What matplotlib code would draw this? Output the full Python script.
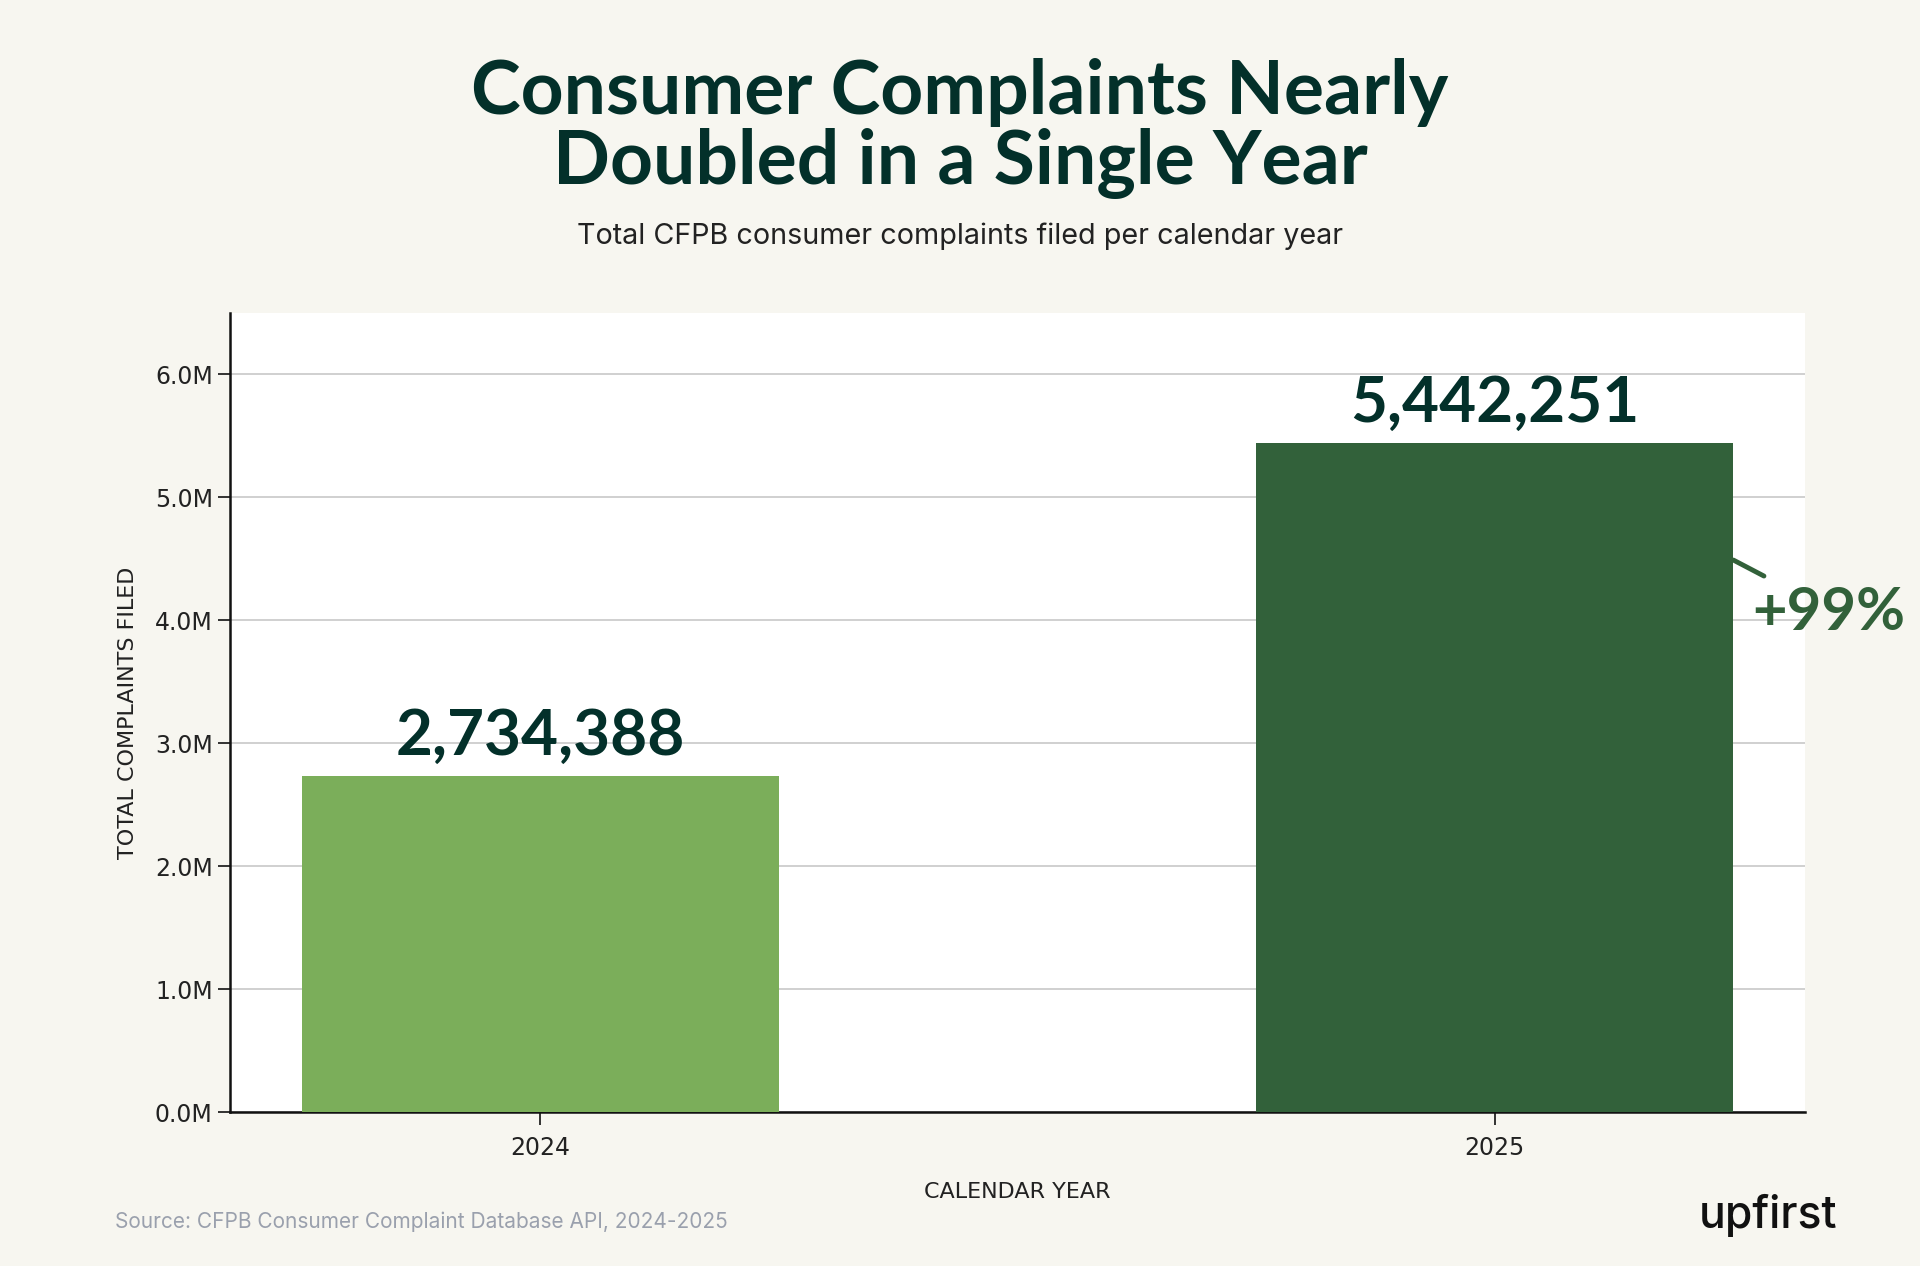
import matplotlib.pyplot as plt
from matplotlib.ticker import FuncFormatter

years = ['2024', '2025']
complaints = [2734388, 5442251]
bar_colors = ['#7bae5a', '#32613a']

BG = '#f7f6f0'
DARK = '#03302a'
INK = '#222222'

fig = plt.figure(figsize=(19.2, 12.66), dpi=100, facecolor=BG)
ax = fig.add_axes([0.1198, 0.1216, 0.8203, 0.6312])
ax.set_facecolor('white')

x = list(range(len(years)))
bars = ax.bar(x, complaints, width=0.5, color=bar_colors, zorder=3)

ax.set_xlim(-0.325, 1.325)
ax.set_ylim(0, 6.5e6)
ax.set_yticks([i * 1e6 for i in range(7)])
ax.yaxis.set_major_formatter(FuncFormatter(lambda v, p: '%.1fM' % (v / 1e6)))
ax.set_xticks(x)
ax.set_xticklabels(years)

ax.grid(axis='y', color='#c8c8c8', linewidth=1.2, zorder=0)
ax.set_axisbelow(True)
for s in ['top', 'right']:
    ax.spines[s].set_visible(False)
for s in ['left', 'bottom']:
    ax.spines[s].set_color('#111111')
    ax.spines[s].set_linewidth(1.8)

tick_font = ['Liberation Sans Narrow', 'DejaVu Sans']
ax.tick_params(axis='both', colors='#111111', labelsize=17, length=9, width=1.2)
for lab in ax.get_xticklabels() + ax.get_yticklabels():
    lab.set_family(tick_font)
    lab.set_color(INK)
ax.tick_params(axis='x', pad=8)

ax.set_xlabel('CALENDAR YEAR', fontsize=16, family=tick_font, color=INK, labelpad=16)
ax.set_ylabel('TOTAL COMPLAINTS FILED', fontsize=16, family=tick_font, color=INK, labelpad=12)

# value labels above bars
for xi, val in zip(x, complaints):
    ax.annotate(f'{val:,}', (xi, val), xytext=(0, 8), textcoords='offset points',
                ha='center', va='bottom', fontsize=46, fontweight='bold',
                family=['Lato', 'DejaVu Sans'], color=DARK)

# growth callout
pct = (complaints[1] / complaints[0] - 1) * 100
ax.plot([1.25, 1.282], [4.49e6, 4.36e6], color='#32613a', linewidth=3.5,
        solid_capstyle='round', clip_on=False, zorder=4)
ax.text(1.35, 4.06e6, f'+{pct:.0f}%', ha='center', va='center', fontsize=43,
        fontweight='bold', family=['Lato', 'DejaVu Sans'], color='#32613a', clip_on=False)

# title and subtitle
fig.text(0.5, 0.927, 'Consumer Complaints Nearly', ha='center', va='center',
         fontsize=54, fontweight='bold', family=['Lato', 'DejaVu Sans'], color=DARK)
fig.text(0.5, 0.871, 'Doubled in a Single Year', ha='center', va='center',
         fontsize=54, fontweight='bold', family=['Lato', 'DejaVu Sans'], color=DARK)
fig.text(0.5, 0.813, 'Total CFPB consumer complaints filed per calendar year', ha='center',
         va='center', fontsize=20.7, family=['Inter', 'DejaVu Sans'], color=INK)

fig.text(0.06, 0.035, 'Source: CFPB Consumer Complaint Database API, 2024-2025', ha='left',
         va='center', fontsize=15, family=['Inter', 'DejaVu Sans'], color='#9aa0ad')
fig.text(0.921, 0.040, 'upfirst', ha='center', va='center', fontsize=32, fontweight='medium',
         family=['Inter', 'DejaVu Sans'], color='#111111')

fig.savefig('out.png', dpi=100, facecolor=BG)
